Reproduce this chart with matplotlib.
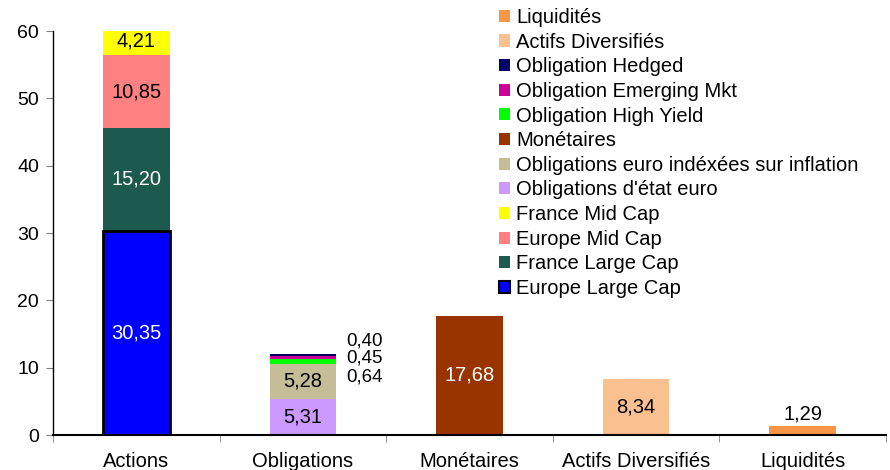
import matplotlib
matplotlib.use('Agg')
import matplotlib.pyplot as plt
import numpy as np

plt.rcParams['font.family'] = ['Liberation Sans', 'DejaVu Sans']

# Catégories et séries
categories = ['Actions', 'Obligations', 'Monétaires', 'Actifs Diversifiés', 'Liquidités']
series_noms = ['Europe Large Cap', 'France Large Cap', 'Europe Mid Cap', 'France Mid Cap',
               "Obligations d'état euro", 'Obligations euro indéxées sur inflation',
               'Monétaires', 'Obligation High Yield', 'Obligation Emerging Mkt',
               'Obligation Hedged', 'Actifs Diversifiés', 'Liquidités']
series_valeurs = [
    [30.35, 0, 0, 0, 0],
    [15.20, 0, 0, 0, 0],
    [10.85, 0, 0, 0, 0],
    [4.21, 0, 0, 0, 0],
    [0, 5.31, 0, 0, 0],
    [0, 5.28, 0, 0, 0],
    [0, 0, 17.68, 0, 0],
    [0, 0.64, 0, 0, 0],
    [0, 0.45, 0, 0, 0],
    [0, 0.40, 0, 0, 0],
    [0, 0, 0, 8.34, 0],
    [0, 0, 0, 0, 1.29],
]
couleurs = ['#0000FF', '#1D5A4E', '#FF8080', '#FFFF00', '#CC99FF', '#C4BD97',
            '#993300', '#00FF00', '#CC0099', '#000066', '#FAC090', '#F79646']
couleurs_texte = ['white', 'white', 'black', 'black', 'black', 'black',
                  'white', None, None, None, 'black', None]

fs = 14.5

fig = plt.figure(figsize=(8.9, 4.7), dpi=100)
ax = fig.add_axes([53 / 890, 35 / 470, 833 / 890, 404 / 470])

x = np.arange(len(categories))
largeur = 0.4
bas = np.zeros(len(categories))
handles = []
for i, (nom, vals) in enumerate(zip(series_noms, series_valeurs)):
    vals = np.array(vals)
    if i == 0:
        b = ax.bar(x, vals, largeur, bottom=bas, color=couleurs[i], edgecolor='black',
                   linewidth=2, label=nom, zorder=3)
    else:
        b = ax.bar(x, vals, largeur, bottom=bas, color=couleurs[i], linewidth=0,
                   label=nom, zorder=2)
    handles.append(b)
    for j, v in enumerate(vals):
        if v == 0:
            continue
        txt = f'{v:.2f}'.replace('.', ',')
        if couleurs_texte[i] is not None:
            ax.text(x[j], bas[j] + v / 2, txt, ha='center', va='center',
                    color=couleurs_texte[i], fontsize=fs, zorder=4)
    bas = bas + vals

# étiquettes des petites valeurs d'Obligations, à droite de la barre
total_oblig = bas[1]
petites = [('0,40', 1.95), ('0,45', -0.7), ('0,64', -3.4)]
for txt, dy in petites:
    ax.text(x[1] + 0.26, total_oblig + dy, txt, ha='left', va='center', fontsize=13.5)

# Liquidités au-dessus de la barre
ax.text(x[4], bas[4] + 0.4, '1,29', ha='center', va='bottom', fontsize=fs)

ax.set_xlim(-0.5, 4.5)
ax.set_ylim(0, 60)
ax.set_yticks(range(0, 61, 10))
ax.set_xticks(x)
ax.set_xticklabels(categories)
ax.set_xticks(np.arange(-0.5, 5, 1), minor=True)
ax.tick_params(axis='x', which='major', length=0, pad=12, labelsize=fs)
ax.tick_params(axis='x', which='minor', length=5, color='#808080', direction='out')
ax.tick_params(axis='y', length=5, color='#808080', labelsize=14, pad=5)
ax.spines['top'].set_visible(False)
ax.spines['right'].set_visible(False)
ax.spines['left'].set_linewidth(1)
ax.spines['bottom'].set_linewidth(1.5)

leg = fig.legend(handles[::-1], series_noms[::-1], loc='upper left',
                 bbox_to_anchor=(499 / 890, 1 - 8 / 470), frameon=False, fontsize=fs,
                 handlelength=0.55, handleheight=0.55, handletextpad=0.3,
                 labelspacing=0.28, borderpad=0, borderaxespad=0)
leg.legend_handles[-1].set_linewidth(1.5)

fig.savefig('out.png', dpi=100)
